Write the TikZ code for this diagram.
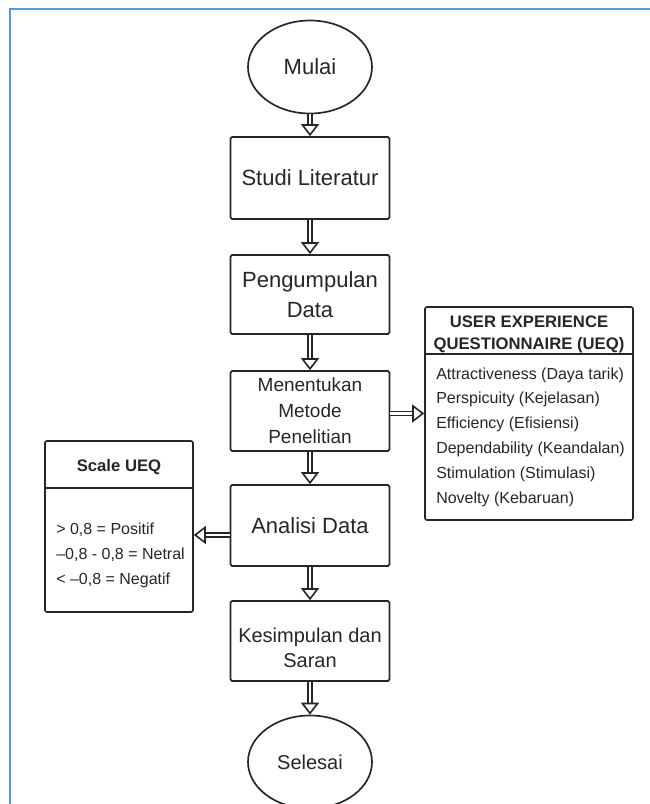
\documentclass[tikz,border=0pt]{standalone}
\usepackage{fontspec}
\setmainfont{Liberation Sans}
\usetikzlibrary{shapes.geometric,arrows.meta,calc}
\definecolor{framecol}{RGB}{91,155,213}
\definecolor{ink}{RGB}{38,38,38}
\newcommand\flowarrow[2]{%
  \draw[shaft] (#1) -- ($(#2)!9pt!(#1)$);
  \draw[head] ($(#2)!9pt!(#1)$) -- (#2);}
\begin{document}
\begin{tikzpicture}[x=0.75pt,y=-0.75pt,
  shaft/.style={draw=ink, line width=1.35pt, double=white, double distance=1.7pt},
  head/.style={draw=ink, line width=1.2pt, -{Triangle[open, length=9pt, width=13.5pt]}},
  box/.style={draw=ink, line width=1.25pt, rounded corners=1.2pt, minimum width=119.25pt,
    inner sep=0pt, align=center, text=ink},
  oval/.style={ellipse, draw=ink, line width=1.25pt, minimum width=93pt, minimum height=69.75pt,
    inner sep=0pt, text=ink},
  panel/.style={draw=ink, line width=1.25pt, rounded corners=1.5pt, inner sep=0pt},
  divider/.style={draw=ink, line width=1.25pt},
  title/.style={font=\bfseries\fontsize{12.5pt}{15pt}\selectfont, text=ink, inner sep=0pt, anchor=base},
  item/.style={font=\fontsize{12pt}{15pt}\selectfont, text=ink, inner sep=0pt, anchor=base west},
  big/.style={font=\fontsize{16.5pt}{20pt}\selectfont}]
\useasboundingbox (0,0) rectangle (650,804);
% page frame
\draw[framecol, line width=1.5pt] (10,804) -- (10,9) -- (650,9);

% main flow
\node[oval, big] (mulai) at (310,67) {Mulai};
\node[box, big, minimum height=61.5pt] (studi) at (310,178) {Studi Literatur};
\node[box, font=\fontsize{16.5pt}{22.5pt}\selectfont, minimum height=59.25pt] (peng) at (310,294.5) {Pengumpulan\\Data};
\node[box, font=\fontsize{14.25pt}{19.5pt}\selectfont, minimum height=60pt] (ment) at (310,411) {Menentukan\\Metode\\Penelitian};
\node[box, big, minimum height=60.75pt] (anal) at (310,525.5) {Analisi Data};
\node[box, minimum height=60pt] (kes) at (310,641) {};
\node[font=\fontsize{15pt}{18.75pt}\selectfont, align=center, text=ink, inner sep=0pt] (kestext) at (310,648) {Kesimpulan dan\\Saran};
\node[oval, font=\fontsize{15pt}{18pt}\selectfont] (sel) at (310,762) {Selesai};

% UEQ panel
\node[panel, minimum width=156pt, minimum height=159.75pt] (ueq) at (529,413.5) {};
\draw[divider] (ueq.west |- 0,354) -- (ueq.east |- 0,354);
\node[title] (ueqt1) at (529,327) {USER EXPERIENCE};
\node[title] (ueqt2) at (529,349) {QUESTIONNAIRE (UEQ)};
\node[item] (u1) at (436,379) {Attractiveness (Daya tarik)};
\node[item] (u2) at (436,403) {Perspicuity (Kejelasan)};
\node[item] (u3) at (436,428) {Efficiency (Efisiensi)};
\node[item] (u4) at (436,453) {Dependability (Keandalan)};
\node[item] (u5) at (436,478) {Stimulation (Stimulasi)};
\node[item] (u6) at (436,503) {Novelty (Kebaruan)};

% Scale panel
\node[panel, minimum width=111pt, minimum height=128.25pt] (scale) at (119,526.5) {};
\draw[divider] (scale.west |- 0,488) -- (scale.east |- 0,488);
\node[title] (scalet) at (119,471) {Scale UEQ};
\node[item] (s1) at (56,534) {> 0,8 = Positif};
\node[item] (s2) at (56,559) {–0,8 - 0,8 = Netral};
\node[item] (s3) at (56,584) {< –0,8 = Negatif};

% connectors
\flowarrow{mulai.south}{studi.north}
\flowarrow{studi.south}{peng.north}
\flowarrow{peng.south}{ment.north}
\flowarrow{ment.south}{anal.north}
\flowarrow{anal.south}{kes.north}
\flowarrow{kes.south}{sel.north}
\coordinate (mentout) at (ment.east |- ueq.west);
\flowarrow{mentout}{ueq.west}
\coordinate (analout) at (anal.west |- 0,535);
\coordinate (scalein) at (scale.east |- 0,535);
\flowarrow{analout}{scalein}
\end{tikzpicture}
\end{document}
